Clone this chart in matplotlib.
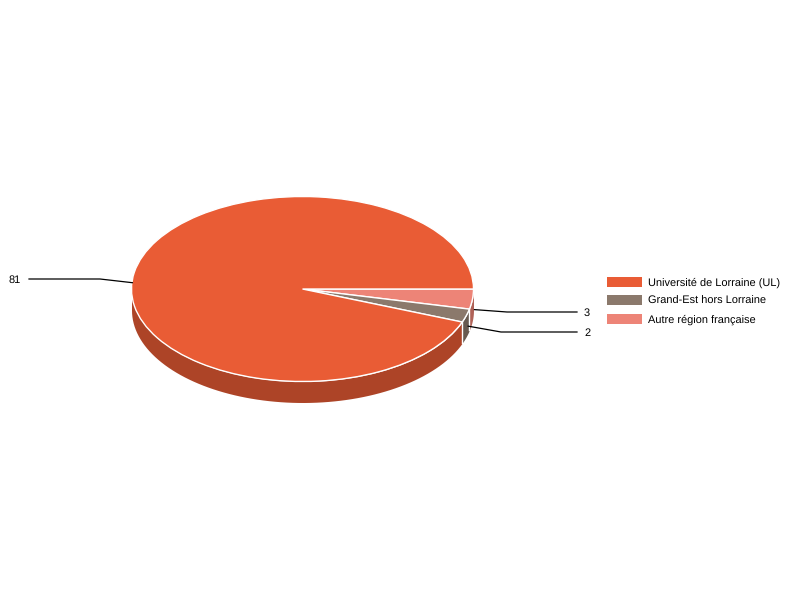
import numpy as np
import matplotlib
matplotlib.use('Agg')
import matplotlib.pyplot as plt
from matplotlib.patches import Patch

plt.rcParams['font.family'] = ['Liberation Sans', 'DejaVu Sans']
plt.rcParams['text.hinting'] = 'no_hinting'
plt.rcParams['text.hinting_factor'] = 1

# --- Chart data (legend order) ---
categories = ['Université de Lorraine (UL)', 'Grand-Est hors Lorraine', 'Autre région française']
values = [81, 2, 3]
colors = ['#E95C35', '#8B796C', '#ED8477']
side_colors = ['#AD4427', '#675A50', '#B06257']

# --- Pie geometry, in pixels of the 800x600 figure ---
W, H = 800, 600
cx, cy = 302.5, 289
rx, ry = 171, 92.5
depth = 21

# Slices run clockwise from 3 o'clock, last category first
order = [2, 1, 0]
pie_values = [values[i] for i in order]
pie_colors = [colors[i] for i in order]
pie_sides = [side_colors[i] for i in order]
edges = np.concatenate([[0], np.cumsum(pie_values)]) / sum(pie_values) * 2 * np.pi

fig = plt.figure(figsize=(8, 6), dpi=100, facecolor='white')

# Pie axes: one data unit is one radius, stretched to make the ellipse
ax = fig.add_axes([0, 0, 1, 1])
ax.pie(pie_values, colors=pie_colors, startangle=0, counterclock=False, radius=1,
       wedgeprops={'edgecolor': 'white', 'linewidth': 1.0, 'zorder': 5})
ax.set_aspect('auto')
ax.set_xlim(-cx / rx, (W - cx) / rx)
ax.set_ylim(-(H - cy) / ry, cy / ry)
d = depth / ry

# Side wall of the pie, only the part facing the viewer (lower half)
for i in range(len(pie_values)):
    a0, a1 = edges[i], min(edges[i + 1], np.pi)
    if a0 >= np.pi:
        continue
    t = np.linspace(a0, a1, 80)
    ax.fill_between(np.cos(t), -np.sin(t), -np.sin(t) - d, color=pie_sides[i],
                    linewidth=0, zorder=2)
    if 0 < a0 < np.pi:
        ax.plot([np.cos(a0)] * 2, [-np.sin(a0), -np.sin(a0) - d], color='white',
                linewidth=1.0, zorder=3)

# Overlay axes in pixels for leader lines and labels
ov = fig.add_axes([0, 0, 1, 1], facecolor='none')
ov.set_xlim(0, W)
ov.set_ylim(H, 0)
ov.axis('off')

# Elbow and label position per slice, in pie order
elbows = [(507, 312), (501, 332), (100, 279)]
ends = [577, 577, 29]
label_x = [584, 584, 21]
aligns = ['left', 'left', 'right']

for i, v in enumerate(pie_values):
    mid = (edges[i] + edges[i + 1]) / 2
    x0 = cx + (rx + 2) * np.cos(mid)
    y0 = cy + ry * np.sin(mid) + depth / 2
    ex, ey = elbows[i]
    ov.plot([x0, ex, ends[i]], [y0, ey, ey], color='black', linewidth=0.9)
    ov.text(label_x[i], ey + 1, str(v), fontsize=8, ha=aligns[i], va='center', color='black')

# Legend
handles = [Patch(facecolor=c, edgecolor='none') for c in colors]
fig.legend(handles, categories, loc='upper left', bbox_to_anchor=(604 / W, 1 - 273.5 / H),
           frameon=False, fontsize=7.9, handlelength=3.2, handleheight=1.0,
           handletextpad=0.55, labelspacing=0.7, borderpad=0.3, borderaxespad=0)

fig.savefig('out.png', dpi=100)
